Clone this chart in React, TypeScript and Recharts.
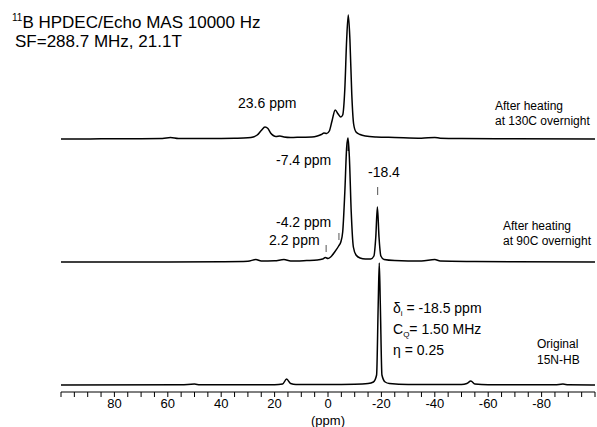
import React from 'react';
import { LineChart, Line, XAxis, YAxis, ReferenceLine } from 'recharts';

// chemical shift (ppm) and intensity
const ppm130 = [100, 90, 80, 70, 62, 59, 56, 45, 35, 30, 28, 26.5, 25, 23.6, 22.5, 21.5, 20.5, 19.5, 18, 16.5, 14, 10, 6, 4, 2.5, 1.5, 0.5, -0.5, -1.5, -2.7, -3.8, -4.8, -5.5, -6.3, -7, -7.6, -8.2, -8.9, -9.6, -10.5, -12, -14, -18, -25, -35, -40, -42, -50, -70, -100];
const int130 = [0, 0, 0.3, 0.3, 0.5, 1.5, 0.5, 0.5, 0.8, 1.2, 2, 4, 8.5, 12, 10.5, 6, 3.5, 2.5, 3, 2, 1.5, 1.8, 2, 3, 4.5, 6, 5.5, 8, 18, 29, 25, 22, 24, 50, 100, 124, 100, 45, 15, 7, 4.5, 3, 2, 1.5, 0.8, 1.5, 0.8, 0.5, 0.3, 0];

const ppm90 = [100, 60, 40, 30, 27, 25, 20, 16.5, 14, 8, 4, 2, 1, 0, -1, -2.5, -4, -4.8, -5.5, -6.3, -7, -7.5, -8, -8.7, -9.5, -10.5, -12, -14, -16, -17.2, -17.9, -18.5, -19.1, -19.8, -21, -25, -35, -40, -42, -55, -70, -100];
const int90 = [0, 0, 0.3, 0.8, 2.5, 1, 1.2, 2.5, 1, 1.5, 2, 3, 4.5, 3.5, 5, 10, 16, 20, 30, 70, 115, 124, 105, 50, 15, 7, 4, 3, 3, 6, 25, 55, 25, 6, 2.5, 1.5, 1, 2.5, 1, 0.5, 0.2, 0];

const ppmOrig = [100, 55, 50, 48, 20, 17, 15.5, 14, 12, 0, -10, -15, -17, -18.2, -18.8, -19.2, -19.6, -20.2, -21.4, -23, -30, -50, -52, -53.5, -55, -60, -85, -88, -90, -100];
const intOrig = [0, 0.2, 1, 0.2, 0.3, 1, 6, 1.5, 0.5, 0.5, 0.8, 1.5, 3, 10, 80, 122, 80, 10, 3, 1.5, 0.5, 0.5, 1.5, 4, 1, 0.3, 0.2, 1, 0.2, 0];

const ticks = [100, 95, 90, 85, 80, 75, 70, 65, 60, 55, 50, 45, 40, 35, 30, 25, 20, 15, 10, 5, 0, -5, -10, -15, -20, -25, -30, -35, -40, -45, -50, -55, -60, -65, -70, -75, -80, -85, -90, -95, -100];

// vertical stacking of the traces
const build = (xs: number[], ys: number[], off: number) => xs.map((x, i) => ({ x, y: ys[i] + off }));
const d130 = build(ppm130, int130, 253);
const d90 = build(ppm90, int90, 130);
const dOrig = build(ppmOrig, intOrig, 7);

const font = '"Liberation Sans", Arial, sans-serif';

const T = ({ x, y, size = 14, children }: { x: number; y: number; size?: number; children: React.ReactNode }) => (
  <div style={{ position: 'absolute', left: x, top: y, transform: 'translateY(-50%)', fontSize: size, fontFamily: font, color: '#000', whiteSpace: 'nowrap', lineHeight: 1.15 }}>
    {children}
  </div>
);

const App = () => {
  return (
    <div style={{ position: 'absolute', left: 0, top: 0, width: 597, height: 427, background: '#fff' }}>
      <LineChart width={597} height={427} margin={{ top: 0, right: 2, left: 61, bottom: 0 }}>
        <XAxis
          type="number"
          dataKey="x"
          domain={[-100, 100]}
          reversed
          ticks={ticks}
          interval={0}
          tickSize={5}
          height={35}
          stroke="#000"
          tick={{ fill: '#000', fontSize: 13, fontFamily: font }}
          tickFormatter={(v: number) => (v % 20 === 0 && Math.abs(v) < 100 ? String(v) : '')}
          label={{ value: '(ppm)', position: 'insideBottom', offset: 2, fill: '#000', fontSize: 13, fontFamily: font }}
        />
        <YAxis type="number" domain={[0, 392]} hide />
        <Line data={d130} dataKey="y" type="monotone" stroke="#000" strokeWidth={1.5} dot={false} isAnimationActive={false} />
        <Line data={d90} dataKey="y" type="monotone" stroke="#000" strokeWidth={1.5} dot={false} isAnimationActive={false} />
        <Line data={dOrig} dataKey="y" type="monotone" stroke="#000" strokeWidth={1.5} dot={false} isAnimationActive={false} />
        <ReferenceLine segment={[{ x: -7.6, y: 251 }, { x: -7.6, y: 241 }]} stroke="#000" strokeWidth={1.5} />
        <ReferenceLine segment={[{ x: -18.6, y: 205 }, { x: -18.6, y: 197 }]} stroke="#555" strokeWidth={1} />
        <ReferenceLine segment={[{ x: -4.1, y: 159 }, { x: -4.1, y: 152 }]} stroke="#555" strokeWidth={1} />
        <ReferenceLine segment={[{ x: 0.7, y: 147 }, { x: 0.7, y: 140 }]} stroke="#555" strokeWidth={1} />
      </LineChart>

      <T x={12} y={22} size={17}><sup style={{ fontSize: 10 }}>11</sup>B HPDEC/Echo MAS 10000 Hz</T>
      <T x={15} y={42} size={17}>SF=288.7 MHz, 21.1T</T>

      <T x={238} y={103}>23.6 ppm</T>
      <T x={276} y={160}>-7.4 ppm</T>
      <T x={368} y={172}>-18.4</T>
      <T x={276} y={222}>-4.2 ppm</T>
      <T x={269} y={240}>2.2 ppm</T>

      <T x={495} y={107} size={12}>After heating</T>
      <T x={495} y={122} size={12}>at 130C overnight</T>
      <T x={503} y={227} size={12}>After heating</T>
      <T x={503} y={242} size={12}>at 90C overnight</T>
      <T x={537} y={345} size={12}>Original</T>
      <T x={537} y={361} size={12}>15N-HB</T>

      <T x={393} y={309}>&delta;<sub style={{ fontSize: 8 }}>i</sub> = -18.5 ppm</T>
      <T x={393} y={330}>C<sub style={{ fontSize: 8 }}>Q</sub>= 1.50 MHz</T>
      <T x={393} y={350}>&eta; = 0.25</T>
    </div>
  );
};

export default App;
